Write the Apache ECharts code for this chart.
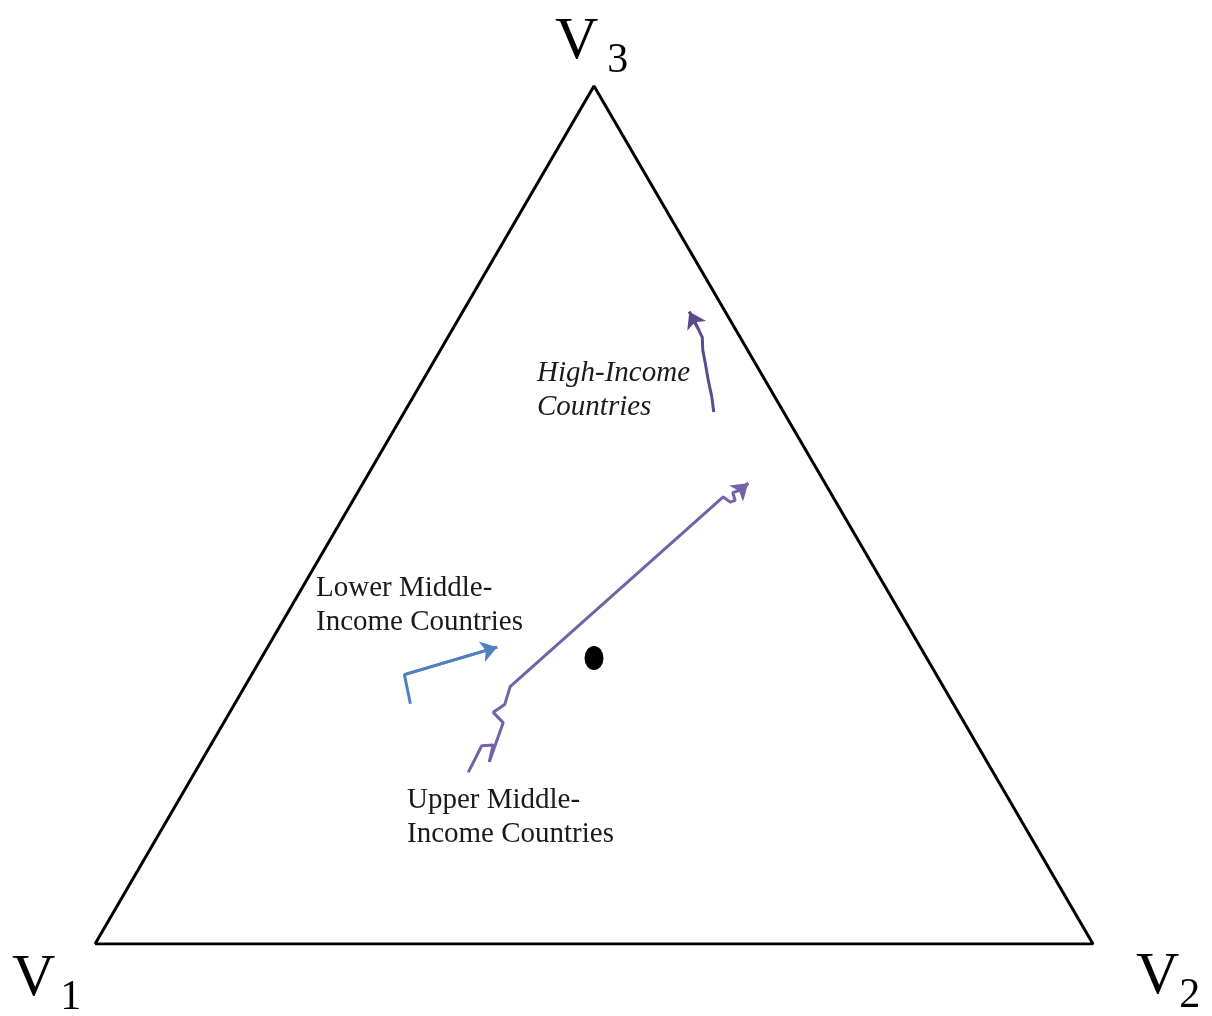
<!DOCTYPE html>
<html>
<head>
<meta charset="utf-8">
<script src="https://cdn.jsdelivr.net/npm/echarts@6/dist/echarts.min.js"></script>
<style>
html, body { margin: 0; padding: 0; background: #fff; }
#main { width: 1212px; height: 1016px; }
</style>
</head>
<body>
<div id="main"></div>
<script>
// each point is a share of [V1, V2, V3], summing to 1
const vertices = [[1, 0, 0], [0, 1, 0], [0, 0, 1]];
const centre = [1 / 3, 1 / 3, 1 / 3];

const highIncome = [
  [0.070, 0.310, 0.620],
  [0.063, 0.299, 0.638],
  [0.057, 0.286, 0.657],
  [0.050, 0.273, 0.677],
  [0.045, 0.263, 0.692],
  [0.038, 0.255, 0.707],
  [0.037, 0.245, 0.718],
  [0.036, 0.227, 0.737],
];

const upperMiddle = [
  [0.526, 0.274, 0.200],
  [0.497, 0.272, 0.231],
  [0.485, 0.283, 0.232],
  [0.499, 0.289, 0.212],
  [0.462, 0.280, 0.258],
  [0.466, 0.264, 0.270],
  [0.450, 0.271, 0.279],
  [0.434, 0.266, 0.300],
  [0.110, 0.369, 0.521],
  [0.106, 0.379, 0.515],
  [0.100, 0.383, 0.517],
  [0.098, 0.376, 0.526],
  [0.089, 0.382, 0.529],
  [0.077, 0.386, 0.537],
];

const lowerMiddle = [
  [0.544, 0.176, 0.280],
  [0.533, 0.153, 0.314],
  [0.424, 0.230, 0.346],
];

const vertexNames = ['1', '2', '3'];

// ternary share -> position in the triangle (base 0..1, height 0..1)
const toXY = (p) => [p[1] + p[2] / 2, p[2]];

const serif = '"Liberation Serif", "Times New Roman", serif';

const pathSeries = (data, color) => ({
  type: 'line',
  data: data.map(toXY),
  showSymbol: false,
  silent: true,
  lineStyle: { color: color, width: 3 },
});

const arrowSeries = (data, color) => ({
  type: 'lines',
  coordinateSystem: 'cartesian2d',
  silent: true,
  symbol: ['none', 'arrow'],
  symbolSize: 16,
  lineStyle: { color: color, width: 3, opacity: 1 },
  data: [{ coords: [toXY(data[data.length - 2]), toXY(data[data.length - 1])] }],
});

const vertexLabel = (name, x, y, gap) => ({
  type: 'text',
  x: x,
  y: y,
  style: {
    text: '{v|V}{n|' + name + '}',
    verticalAlign: 'top',
    fill: '#000',
    rich: {
      v: { fontFamily: serif, fontSize: 60, lineHeight: 60, verticalAlign: 'top' },
      n: { fontFamily: serif, fontSize: 42, lineHeight: 42, padding: [28, 0, 0, gap], verticalAlign: 'top' },
    },
  },
});

const noteLabel = (text, x, y, italic) => ({
  type: 'text',
  x: x,
  y: y,
  style: {
    text: text,
    fontFamily: serif,
    fontSize: 29,
    fontStyle: italic ? 'italic' : 'normal',
    lineHeight: 34,
    verticalAlign: 'top',
    fill: '#1a1a1a',
  },
});

const myChart = echarts.init(document.getElementById('main'));
myChart.setOption({
  animation: false,
  grid: { left: 95, right: 119, top: 86, bottom: 72 },
  xAxis: { type: 'value', min: 0, max: 1, show: false },
  yAxis: { type: 'value', min: 0, max: 1, show: false },
  series: [
    {
      type: 'line',
      data: [...vertices, vertices[0]].map(toXY),
      showSymbol: false,
      silent: true,
      lineStyle: { color: '#000', width: 3 },
    },
    pathSeries(highIncome, '#5b4b8a'),
    arrowSeries(highIncome, '#5b4b8a'),
    pathSeries(upperMiddle, '#7262a6'),
    arrowSeries(upperMiddle, '#7262a6'),
    pathSeries(lowerMiddle, '#4f81bd'),
    arrowSeries(lowerMiddle, '#4f81bd'),
    {
      type: 'scatter',
      data: [toXY(centre)],
      symbol: 'circle',
      symbolSize: [19, 24],
      silent: true,
      itemStyle: { color: '#000', opacity: 1 },
    },
  ],
  graphic: [
    vertexLabel(vertexNames[0], 12, 949, 5),
    vertexLabel(vertexNames[1], 1136, 947, 0),
    vertexLabel(vertexNames[2], 555, 12, 9),
    noteLabel('High-Income\nCountries', 537, 356, true),
    noteLabel('Lower Middle-\nIncome Countries', 316, 571, false),
    noteLabel('Upper Middle-\nIncome Countries', 407, 783, false),
  ],
});
</script>
</body>
</html>
